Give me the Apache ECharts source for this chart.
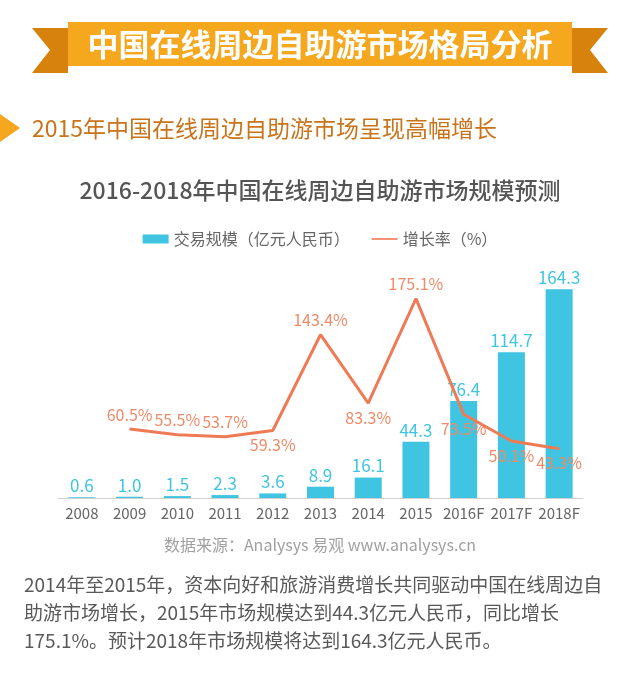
<!DOCTYPE html>
<html lang="zh">
<head>
    <meta charset="UTF-8">
    <title>中国在线周边自助游市场格局分析</title>
    <style>
        html, body { margin: 0; padding: 0; background: #fff; }
        #main { width: 640px; height: 676px; }
    </style>
</head>
<body>
    <div id="main"></div>
</body>
</html>
<script src="https://cdn.jsdelivr.net/npm/echarts@6/dist/echarts.min.js"></script>
<script type="text/javascript">
// data
var years = ['2008', '2009', '2010', '2011', '2012', '2013', '2014', '2015', '2016F', '2017F', '2018F'];
var scale = [0.6, 1.0, 1.5, 2.3, 3.6, 8.9, 16.1, 44.3, 76.4, 114.7, 164.3];
var growth = [null, 60.5, 55.5, 53.7, 59.3, 143.4, 83.3, 175.1, 73.5, 50.1, 43.3];
// which growth labels sit under the line
var growthBelow = [false, false, false, false, true, false, true, false, true, true, true];

var paragraph = [
    '2014年至2015年，资本向好和旅游消费增长共同驱动中国在线周边自',
    '助游市场增长，2015年市场规模达到44.3亿元人民币，同比增长',
    '175.1%。预计2018年市场规模将达到164.3亿元人民币。'
];

var font = '"Noto Sans CJK SC", "Noto Sans", sans-serif';
var cyan = '#3fc5e1';
var orange = '#ee7b56';

var myChart = echarts.init(document.getElementById('main'));

var growthData = growth.map(function (v, i) {
    return {
        value: v,
        label: {
            show: v != null,
            position: growthBelow[i] ? 'bottom' : 'top'
        }
    };
});

var textGraphics = paragraph.map(function (line, i) {
    return {
        type: 'text',
        left: 24,
        top: 575 + i * 28,
        style: { text: line, fill: '#595959', font: '19px ' + font }
    };
});

var option = {
    backgroundColor: '#fff',
    textStyle: { fontFamily: font },
    graphic: [
        // ribbon tails
        {
            type: 'polygon',
            shape: { points: [[32, 28], [68, 28], [68, 73], [32, 73], [50, 50]] },
            style: { fill: '#d6820c' }
        },
        {
            type: 'polygon',
            shape: { points: [[572, 28], [608, 28], [590, 50], [608, 73], [572, 73]] },
            style: { fill: '#d6820c' }
        },
        {
            type: 'rect',
            shape: { x: 68, y: 22, width: 504, height: 44 },
            style: { fill: '#f5a71d' }
        },
        {
            type: 'text',
            x: 320, y: 44,
            style: {
                text: '中国在线周边自助游市场格局分析',
                fill: '#fff', font: 'bold 31px ' + font,
                align: 'center', verticalAlign: 'middle'
            }
        },
        // subtitle marker
        {
            type: 'polygon',
            shape: { points: [[0, 114], [20, 128], [0, 142]] },
            style: { fill: '#f5a71d' }
        },
        {
            type: 'text',
            x: 32, y: 128,
            style: {
                text: '2015年中国在线周边自助游市场呈现高幅增长',
                fill: '#c9731b', font: '23px ' + font,
                verticalAlign: 'middle'
            }
        },
        {
            type: 'text',
            x: 320, y: 545,
            style: {
                text: '数据来源：Analysys 易观 www.analysys.cn',
                fill: '#a0a0a0', font: '16px ' + font,
                align: 'center', verticalAlign: 'middle'
            }
        }
    ].concat(textGraphics),
    title: {
        text: '2016-2018年中国在线周边自助游市场规模预测',
        left: 'center',
        top: 174,
        textStyle: { color: '#555', fontSize: 23, fontWeight: 500, fontFamily: font }
    },
    legend: {
        top: 226,
        left: 'center',
        itemGap: 22,
        itemWidth: 26,
        itemHeight: 9,
        textStyle: { color: '#666', fontSize: 16, fontFamily: font },
        data: [
            { name: '交易规模（亿元人民币）', icon: 'rect' },
            { name: '增长率（%）', icon: 'path://M0,4L32,4L32,6L0,6Z', itemStyle: { color: orange } }
        ]
    },
    grid: { left: 58, right: 57, top: 268, bottom: 178 },
    xAxis: {
        type: 'category',
        data: years,
        axisLine: { lineStyle: { color: '#d0d0d0', width: 1 } },
        axisTick: { show: false },
        axisLabel: { color: '#666', fontSize: 15, margin: 8, interval: 0 }
    },
    yAxis: [
        { type: 'value', min: 0, max: 181, show: false, splitLine: { show: false } },
        { type: 'value', min: 0, max: 202, show: false, splitLine: { show: false } }
    ],
    series: [
        {
            name: '交易规模（亿元人民币）',
            type: 'bar',
            data: scale,
            barWidth: 27,
            itemStyle: { color: cyan },
            label: {
                show: true, position: 'top', distance: 3,
                color: cyan, fontSize: 17,
                formatter: function (p) { return Number(p.value).toFixed(1); }
            }
        },
        {
            name: '增长率（%）',
            type: 'line',
            yAxisIndex: 1,
            data: growthData,
            symbol: 'circle',
            symbolSize: 1,
            showSymbol: true,
            lineStyle: { color: orange, width: 3 },
            itemStyle: { color: orange },
            label: {
                show: true, distance: 6,
                color: '#ef8a68', fontSize: 16,
                formatter: function (p) {
                    return p.value == null ? '' : Number(p.value).toFixed(1) + '%';
                }
            },
            z: 3
        }
    ]
};

myChart.setOption(option);
</script>
